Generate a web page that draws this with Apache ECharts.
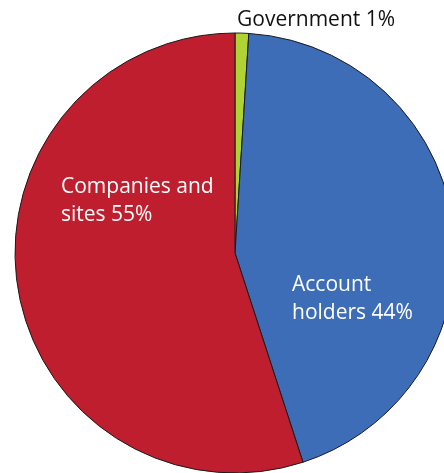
<!DOCTYPE html>
<html><head><meta charset="utf-8">
<script src="https://cdn.jsdelivr.net/npm/echarts@6/dist/echarts.min.js"></script>
<style>html,body{margin:0;padding:0;background:#fff}#c{width:444px;height:473px}</style>
</head><body><div id="c"></div>
<script>
const categories = ['Government', 'Account holders', 'Companies and sites'];
const values = [1, 44, 55];
const labelTexts = ['Government 1%', 'Account\nholders 44%', 'Companies and\nsites 55%'];
const colors = ['#B1D234', '#3D6DB6', '#BE1E2E'];

const chart = echarts.init(document.getElementById('c'), null, {renderer: 'canvas'});
const font = '"Open Sans", "Noto Sans", sans-serif';
chart.setOption({
  animation: false,
  series: [{
    type: 'pie',
    center: [235, 253],
    radius: 220,
    startAngle: 90,
    clockwise: true,
    label: {show: false},
    labelLine: {show: false},
    itemStyle: {borderColor: '#1a1a1a', borderWidth: 1},
    data: categories.map((c, i) => ({name: c, value: values[i], itemStyle: {color: colors[i]}}))
  }],
  graphic: [
    {type: 'text', z: 100, left: 237, top: 10, style: {text: labelTexts[0], font: '21px ' + font, fill: '#111'}},
    {type: 'text', z: 100, left: 292, top: 271, style: {text: labelTexts[1], font: '21px ' + font, fill: '#fff', lineHeight: 28}},
    {type: 'text', z: 100, left: 61, top: 173, style: {text: labelTexts[2], font: '21px ' + font, fill: '#fff', lineHeight: 28}}
  ]
});
</script></body></html>
